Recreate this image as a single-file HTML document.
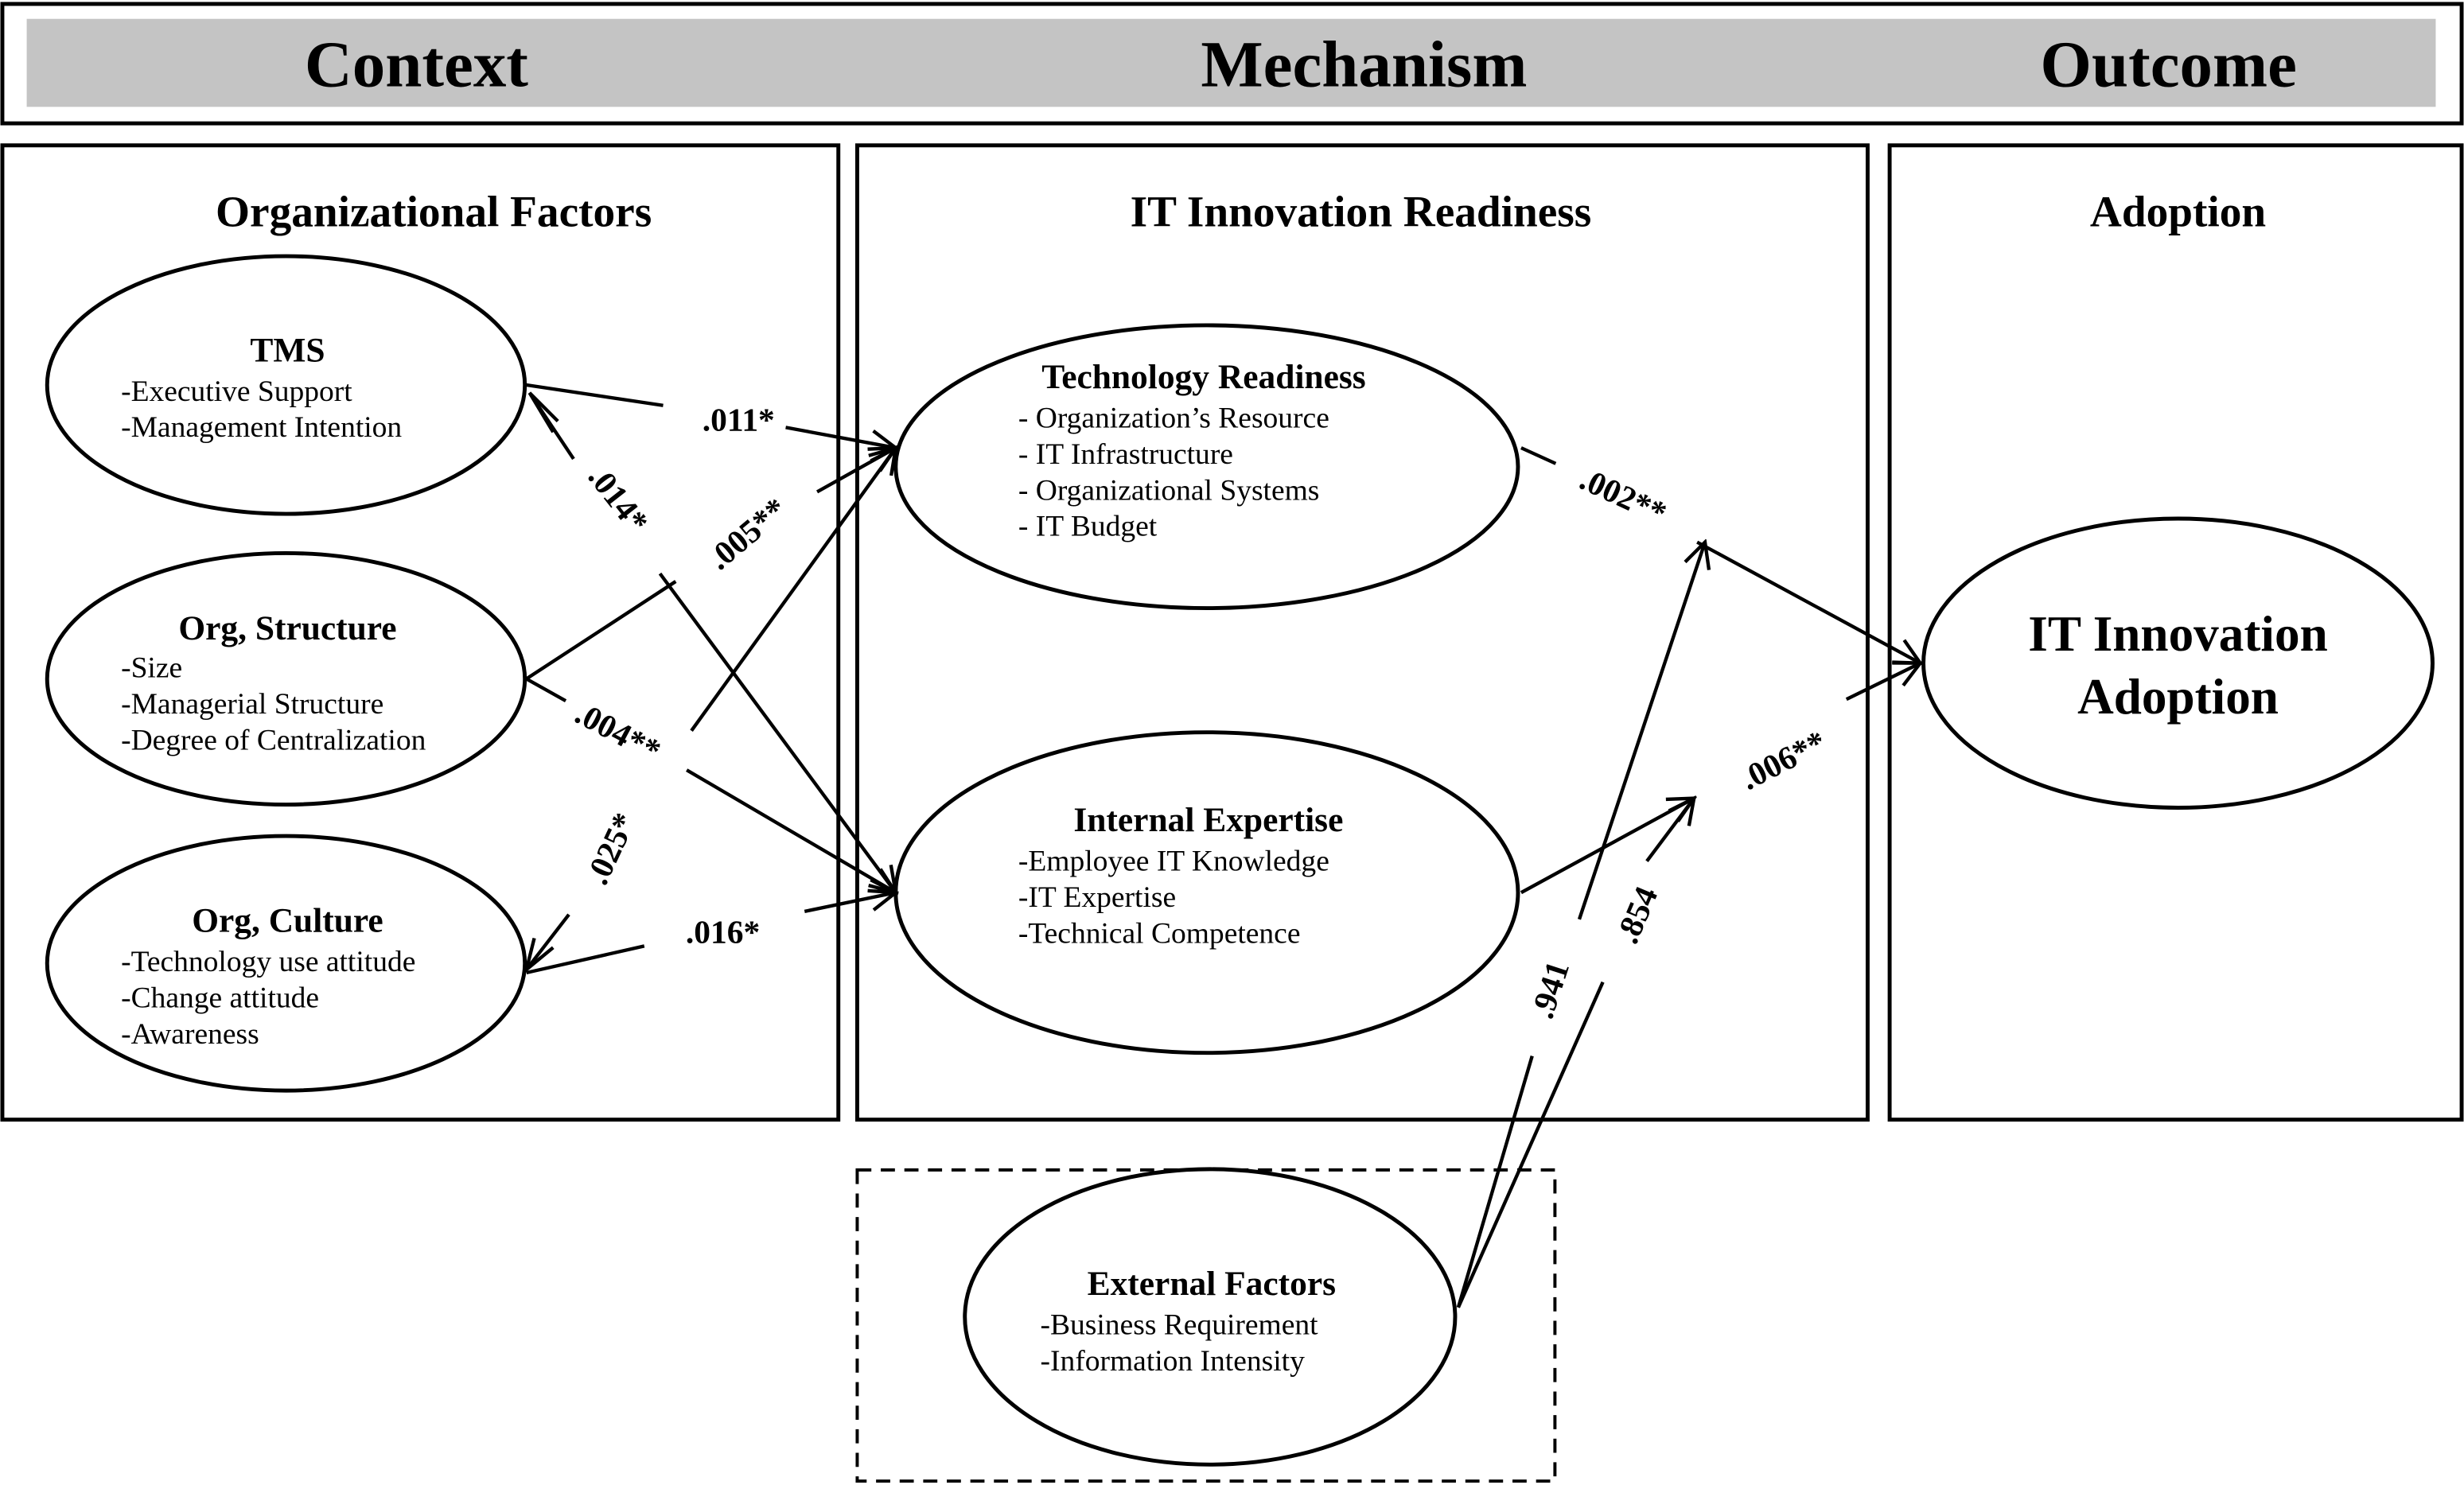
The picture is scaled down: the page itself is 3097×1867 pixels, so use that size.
<!DOCTYPE html>
<html><head><meta charset="utf-8">
<style>
html,body{margin:0;padding:0;background:#fff;}
svg{display:block;}
text{font-family:"Liberation Serif",serif;fill:#000;}
.h{font-size:42px;font-weight:bold;}
.t{font-size:28px;font-weight:bold;}
.e{font-size:22px;font-weight:bold;}
.s{font-size:19px;}
.l{font-size:21px;font-weight:bold;}
</style></head>
<body>
<svg width="3097" height="1867" viewBox="0 0 1568 945" preserveAspectRatio="none" xmlns="http://www.w3.org/2000/svg">
<defs>
<marker id="a" markerWidth="20" markerHeight="20" refX="18" refY="10" orient="auto" markerUnits="userSpaceOnUse">
<path d="M2,2 L18,10 L2,18" fill="none" stroke="#000" stroke-width="2.2"/>
</marker>
</defs>
<g fill="none" stroke="#000" stroke-width="2.5">
<rect x="1.5" y="2.5" width="1565" height="76"/>
<rect x="1.5" y="92.5" width="532" height="620"/>
<rect x="545.5" y="92.5" width="643" height="620"/>
<rect x="1202.5" y="92.5" width="364" height="620"/>
<rect x="545.5" y="744.5" width="444" height="198" stroke-dasharray="9,6" stroke-width="2"/>
</g>
<rect x="17" y="12" width="1533" height="56" fill="#c4c4c4"/>
<text class="h" x="265" y="55" text-anchor="middle">Context</text>
<text class="h" x="868" y="55" text-anchor="middle">Mechanism</text>
<text class="h" x="1380" y="55" text-anchor="middle">Outcome</text>
<text class="t" x="276" y="144" text-anchor="middle">Organizational Factors</text>
<text class="t" x="866" y="144" text-anchor="middle">IT Innovation Readiness</text>
<text class="t" x="1386" y="144" text-anchor="middle">Adoption</text>
<g fill="#fff" stroke="#000" stroke-width="2.5">
<ellipse cx="182" cy="245" rx="152" ry="82"/>
<ellipse cx="182" cy="432" rx="152" ry="80"/>
<ellipse cx="182" cy="613" rx="152" ry="81"/>
<ellipse cx="768" cy="297" rx="198" ry="90"/>
<ellipse cx="768" cy="568" rx="198" ry="102"/>
<ellipse cx="1386" cy="422" rx="162" ry="92"/>
<ellipse cx="770" cy="838" rx="156" ry="94"/>
</g>
<text class="e" x="183" y="230" text-anchor="middle">TMS</text>
<text class="s" x="77" y="255">-Executive Support</text>
<text class="s" x="77" y="278">-Management Intention</text>
<text class="e" x="183" y="407" text-anchor="middle">Org, Structure</text>
<text class="s" x="77" y="431">-Size</text>
<text class="s" x="77" y="454">-Managerial Structure</text>
<text class="s" x="77" y="477">-Degree of Centralization</text>
<text class="e" x="183" y="593" text-anchor="middle">Org, Culture</text>
<text class="s" x="77" y="618">-Technology use attitude</text>
<text class="s" x="77" y="641">-Change attitude</text>
<text class="s" x="77" y="664">-Awareness</text>
<text class="e" x="766" y="247" text-anchor="middle">Technology Readiness</text>
<text class="s" x="648" y="272">- Organization’s Resource</text>
<text class="s" x="648" y="295">- IT Infrastructure</text>
<text class="s" x="648" y="318">- Organizational Systems</text>
<text class="s" x="648" y="341">- IT Budget</text>
<text class="e" x="769" y="529" text-anchor="middle">Internal Expertise</text>
<text class="s" x="648" y="554">-Employee IT Knowledge</text>
<text class="s" x="648" y="577">-IT Expertise</text>
<text class="s" x="648" y="600">-Technical Competence</text>
<text x="1386" y="414" text-anchor="middle" style="font-size:32px;font-weight:bold">IT Innovation</text>
<text x="1386" y="454" text-anchor="middle" style="font-size:32px;font-weight:bold">Adoption</text>
<text class="e" x="771" y="824" text-anchor="middle">External Factors</text>
<text class="s" x="662" y="849">-Business Requirement</text>
<text class="s" x="662" y="872">-Information Intensity</text>
<g fill="none" stroke="#000" stroke-width="2.2">
<line x1="335" y1="245" x2="422" y2="258"/>
<line x1="500" y1="272" x2="570" y2="285" marker-end="url(#a)"/>
<polyline points="355,268 337,250 352,275"/>
<line x1="337" y1="250" x2="365" y2="292"/>
<line x1="420" y1="365" x2="570" y2="568" marker-end="url(#a)"/>
<line x1="335" y1="432" x2="430" y2="370"/>
<line x1="520" y1="313" x2="570" y2="285" marker-end="url(#a)"/>
<line x1="335" y1="617" x2="362" y2="582"/>
<polyline points="340,597 335,617 352,603"/>
<line x1="440" y1="465" x2="570" y2="285" marker-end="url(#a)"/>
<line x1="335" y1="432" x2="360" y2="446"/>
<line x1="437" y1="490" x2="570" y2="568" marker-end="url(#a)"/>
<line x1="335" y1="619" x2="410" y2="602"/>
<line x1="512" y1="580" x2="570" y2="568" marker-end="url(#a)"/>
<line x1="968" y1="285" x2="990" y2="295"/>
<line x1="1080" y1="345" x2="1222" y2="422" marker-end="url(#a)"/>
<line x1="968" y1="568" x2="1078" y2="508" marker-end="url(#a)"/>
<line x1="1175" y1="445" x2="1222" y2="422" marker-end="url(#a)"/>
<line x1="928" y1="832" x2="975" y2="672"/>
<line x1="1005" y1="585" x2="1085" y2="345" marker-end="url(#a)"/>
<line x1="928" y1="832" x2="1020" y2="625"/>
<line x1="1048" y1="548" x2="1078" y2="508" marker-end="url(#a)"/>
</g>
<text class="l" x="470" y="274" text-anchor="middle">.011*</text>
<text class="l" transform="translate(388,322) rotate(52)" text-anchor="middle">.014*</text>
<text class="l" transform="translate(480,345) rotate(-40)" text-anchor="middle">.005**</text>
<text class="l" transform="translate(390,472) rotate(28)" text-anchor="middle">.004**</text>
<text class="l" transform="translate(395,543) rotate(-65)" text-anchor="middle">.025*</text>
<text class="l" x="460" y="600" text-anchor="middle">.016*</text>
<text class="l" transform="translate(1030,322) rotate(25)" text-anchor="middle">.002**</text>
<text class="l" transform="translate(1138,490) rotate(-27)" text-anchor="middle">.006**</text>
<text class="l" transform="translate(993,632) rotate(-72)" text-anchor="middle">.941</text>
<text class="l" transform="translate(1048,585) rotate(-67)" text-anchor="middle">.854</text>
</svg>
</body></html>
